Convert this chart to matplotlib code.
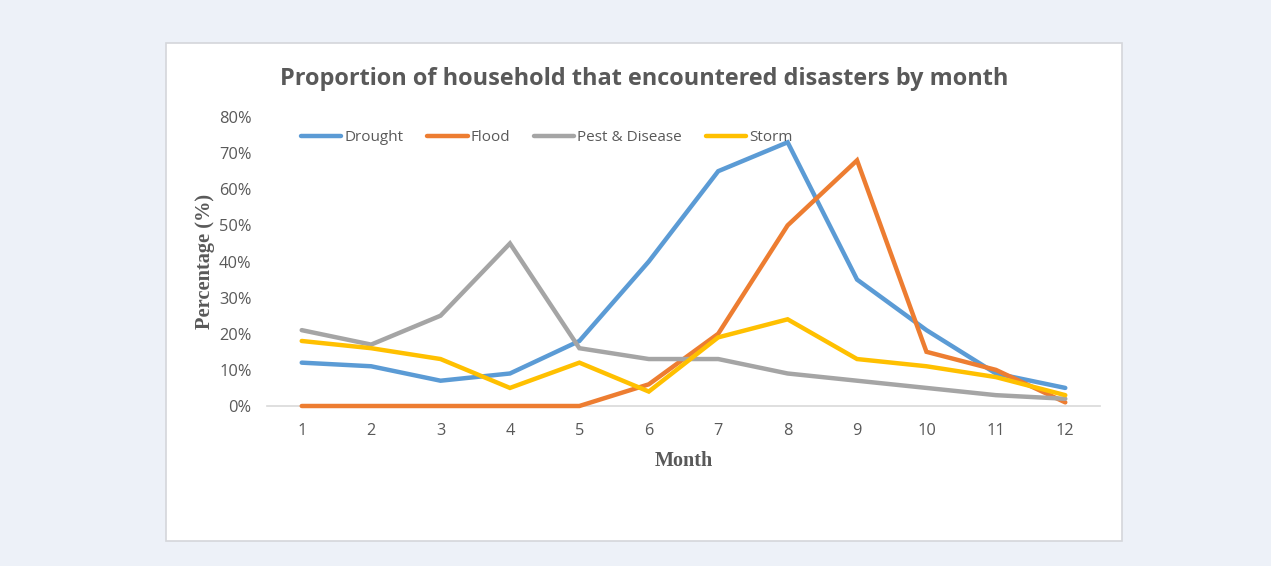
import matplotlib
matplotlib.use("Agg")
import matplotlib.pyplot as plt
from matplotlib.patches import Rectangle
from matplotlib.ticker import FuncFormatter

# Share of households reporting each disaster type, by month
months = list(range(1, 13))
drought = [12, 11, 7, 9, 18, 40, 65, 73, 35, 21, 9, 5]
flood = [0, 0, 0, 0, 0, 6, 20, 50, 68, 15, 10, 1]
pest = [21, 17, 25, 45, 16, 13, 13, 9, 7, 5, 3, 2]
storm = [18, 16, 13, 5, 12, 4, 19, 24, 13, 11, 8, 3]

series = [("Drought", drought, "#5B9BD5"),
          ("Flood", flood, "#ED7D31"),
          ("Pest & Disease", pest, "#A5A5A5"),
          ("Storm", storm, "#FFC000")]

txt = "#595959"

fig = plt.figure(figsize=(12.71, 5.66), dpi=100)
fig.patch.set_facecolor("#EDF1F8")

# white chart area with light border
box = Rectangle((166 / 1271, 25 / 566), 956 / 1271, 498 / 566,
                transform=fig.transFigure, facecolor="white",
                edgecolor="#D4D6DA", linewidth=1.2, zorder=-5)
fig.add_artist(box)

ax = fig.add_axes([267 / 1271, 160 / 566, 833 / 1271, 289 / 566])
ax.set_facecolor("none")
ax.set_zorder(2)

for name, vals, col in series:
    ax.plot(months, vals, color=col, linewidth=3.2, label=name,
            solid_capstyle="round", solid_joinstyle="miter", clip_on=False)

ax.set_xlim(0.5, 12.5)
ax.set_ylim(0, 80)
ax.set_xticks(months)
ax.set_yticks(range(0, 81, 10))
ax.yaxis.set_major_formatter(FuncFormatter(lambda v, p: f"{int(v)}%"))
ax.tick_params(length=0, labelsize=11.8, labelcolor=txt)
ax.tick_params(axis="y", pad=11)
ax.tick_params(axis="x", pad=12)
for lab in ax.get_xticklabels() + ax.get_yticklabels():
    lab.set_fontfamily("Open Sans")

for s in ["top", "right", "left"]:
    ax.spines[s].set_visible(False)
ax.spines["bottom"].set_color("#D9D9D9")
ax.spines["bottom"].set_linewidth(1.2)
ax.spines["bottom"].set_zorder(0)

ax.set_xlabel("Month", fontfamily="Liberation Serif", fontweight="bold",
              fontsize=14.5, color=txt, labelpad=9)
ax.set_ylabel("Percentage (%)", fontfamily="Liberation Serif", fontweight="bold",
              fontsize=14.7, color=txt, labelpad=3)

leg = ax.legend(loc="upper left", bbox_to_anchor=(0.024, 1.003), ncol=4,
                frameon=False, handlelength=2.65, handletextpad=0.2,
                columnspacing=1.55, prop={"family": "Open Sans", "size": 11})
for t in leg.get_texts():
    t.set_color(txt)

fig.text(644 / 1271, 1 - 79 / 566,
         "Proportion of household that encountered disasters by month",
         ha="center", va="center", fontfamily="Open Sans", fontweight="bold",
         fontsize=16.9, color=txt)

fig.savefig("out.png", dpi=100, facecolor=fig.get_facecolor())
